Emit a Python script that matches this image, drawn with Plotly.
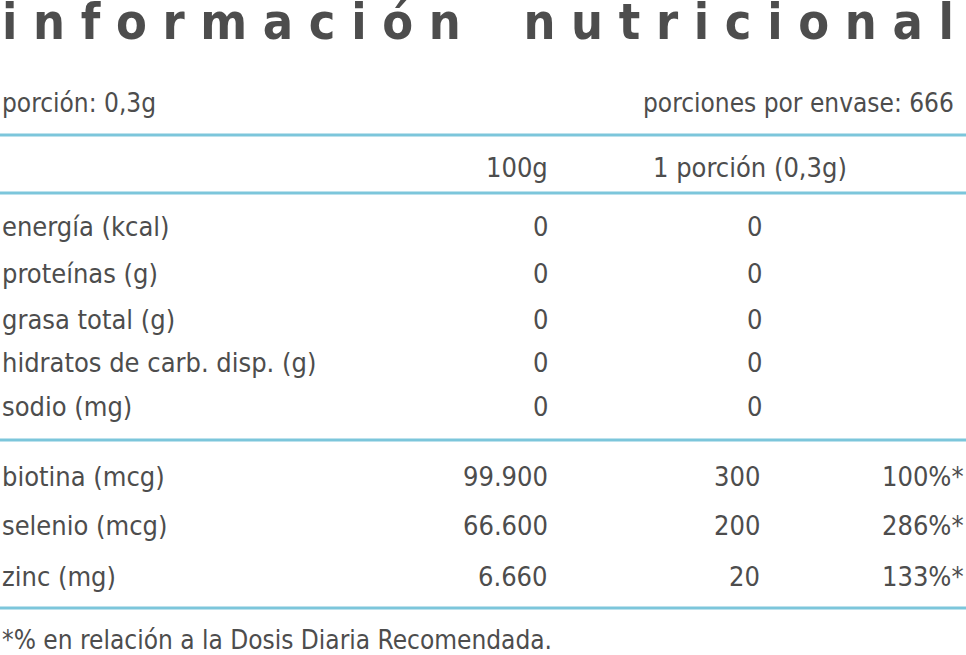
import plotly.graph_objects as go

TITLE = "información nutricional"
PORCION = "porción: 0,3g"
ENVASE = "porciones por envase: 666"
HEADERS = ["100g", "1 porción (0,3g)"]

MACROS = ["energía (kcal)", "proteínas (g)", "grasa total (g)",
          "hidratos de carb. disp. (g)", "sodio (mg)"]
MACRO_100G = ["0", "0", "0", "0", "0"]
MACRO_PORCION = ["0", "0", "0", "0", "0"]

MICROS = ["biotina (mcg)", "selenio (mcg)", "zinc (mg)"]
MICRO_100G = ["99.900", "66.600", "6.660"]
MICRO_PORCION = ["300", "200", "20"]
MICRO_DDR = ["100%*", "286%*", "133%*"]

FOOTNOTE = "*% en relación a la Dosis Diaria Recomendada."

TEXT = "#4d4d4d"
LINE = "#7cc6db"
FONT = "DejaVu Sans Condensed, Liberation Sans Narrow, Roboto, sans-serif"

fig = go.Figure()


def txt(x, y, s, anchor="left", size=27, bold=False):
    fig.add_annotation(x=x, y=y, text=f"<b>{s}</b>" if bold else s,
                       xref="x", yref="y", xanchor=anchor, yanchor="middle",
                       showarrow=False,
                       font=dict(family=FONT, size=size, color=TEXT))


# title with wide tracking
spaced = "    ".join(" ".join(w) for w in TITLE.split())
txt(0, 22, spaced, size=50, bold=True)

txt(0, 103, PORCION, size=26)
txt(956, 103, ENVASE, anchor="right", size=26)

txt(550, 167, HEADERS[0], anchor="right")
txt(750, 167, HEADERS[1], anchor="center")

macro_y = [226, 273, 319, 362, 406]
for name, a, b, y in zip(MACROS, MACRO_100G, MACRO_PORCION, macro_y):
    txt(0, y, name)
    txt(550, y, a, anchor="right")
    txt(754, y, b, anchor="center")

micro_y = [476, 525, 576]
for name, a, b, c, y in zip(MICROS, MICRO_100G, MICRO_PORCION, MICRO_DDR, micro_y):
    txt(0, y, name)
    txt(550, y, a, anchor="right")
    txt(762, y, b, anchor="right")
    txt(966, y, c, anchor="right")

txt(0, 640, FOOTNOTE, size=26)

for y in [135, 193, 440, 608]:
    fig.add_shape(type="line", x0=0, x1=966, y0=y, y1=y, xref="x", yref="y",
                  line=dict(color=LINE, width=3))

fig.update_xaxes(range=[0, 966], visible=False, fixedrange=True)
fig.update_yaxes(range=[655, 0], visible=False, fixedrange=True)
fig.update_layout(width=966, height=655, margin=dict(l=0, r=0, t=0, b=0),
                  paper_bgcolor="white", plot_bgcolor="white", showlegend=False)

fig.write_html("out.html", config={"staticPlot": True},
               post_script="document.body.style.margin='0';"
                           "document.body.style.overflow='hidden';")
